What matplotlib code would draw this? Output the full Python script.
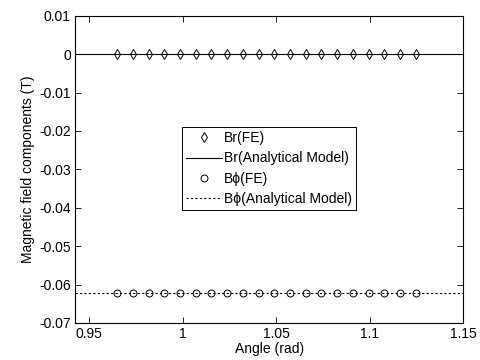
import matplotlib
matplotlib.use("Agg")
from matplotlib import pyplot as plt

plt.rcParams['font.family'] = ['Liberation Sans', 'DejaVu Sans']
plt.rcParams['font.size'] = 10
plt.rcParams['axes.unicode_minus'] = False

# data
angle = [0.9650, 0.9734, 0.9818, 0.9902, 0.9986, 1.0070, 1.0154, 1.0238, 1.0322, 1.0406,
         1.0490, 1.0574, 1.0658, 1.0742, 1.0826, 1.0910, 1.0994, 1.1078, 1.1162, 1.1247]
br_fe = [0.0, 0.0, 0.0, 0.0, 0.0, 0.0, 0.0, 0.0, 0.0, 0.0,
         0.0, 0.0, 0.0, 0.0, 0.0, 0.0, 0.0, 0.0, 0.0, 0.0]
bphi_fe = [-0.0622, -0.0622, -0.0622, -0.0622, -0.0622, -0.0622, -0.0622, -0.0622, -0.0622, -0.0622,
           -0.0622, -0.0622, -0.0622, -0.0622, -0.0622, -0.0622, -0.0622, -0.0622, -0.0622, -0.0622]
angle_model = [0.9425, 1.15]
br_model = [0.0, 0.0]
bphi_model = [-0.0622, -0.0622]

fig = plt.figure(figsize=(4.81, 3.6), dpi=100)
ax = fig.add_axes([0.156, 0.103, 0.807, 0.853])

ax.plot(angle, br_fe, linestyle='none', marker='d', markersize=5, markerfacecolor='white',
        markeredgecolor='black', markeredgewidth=0.7, label='Br(FE)')
ax.plot(angle_model, br_model, color='black', lw=0.8, label='Br(Analytical Model)')
ax.plot(angle, bphi_fe, linestyle='none', marker='o', markersize=5, markerfacecolor='white',
        markeredgecolor='black', markeredgewidth=0.7, label='B\u03d5(FE)')
ax.plot(angle_model, bphi_model, color='black', lw=0.8, linestyle=(0, (2, 2)),
        label='B\u03d5(Analytical Model)')

ax.set_xlim(0.9425, 1.15)
ax.set_ylim(-0.07, 0.01)
ax.set_xticks([0.95, 1.0, 1.05, 1.1, 1.15])
ax.set_xticklabels(['0.95', '1', '1.05', '1.1', '1.15'])
ax.set_yticks([-0.07, -0.06, -0.05, -0.04, -0.03, -0.02, -0.01, 0, 0.01])
ax.set_yticklabels(['-0.07', '-0.06', '-0.05', '-0.04', '-0.03', '-0.02', '-0.01', '0', '0.01'])
ax.tick_params(direction='in', top=True, right=True, length=4, width=0.6, labelsize=10, pad=3)
for s in ax.spines.values():
    s.set_linewidth(0.8)

ax.set_xlabel('Angle (rad)', labelpad=1)
ax.set_ylabel('Magnetic field components (T)', labelpad=3)

leg = ax.legend(loc='upper left', bbox_to_anchor=(0.276, 0.638), borderaxespad=0,
                fancybox=False, edgecolor='black', framealpha=1, handlelength=2.6,
                handletextpad=0.1, labelspacing=0.45, borderpad=0.3, fontsize=10)
leg.get_frame().set_linewidth(0.7)

plt.savefig('out.png', dpi=100)
